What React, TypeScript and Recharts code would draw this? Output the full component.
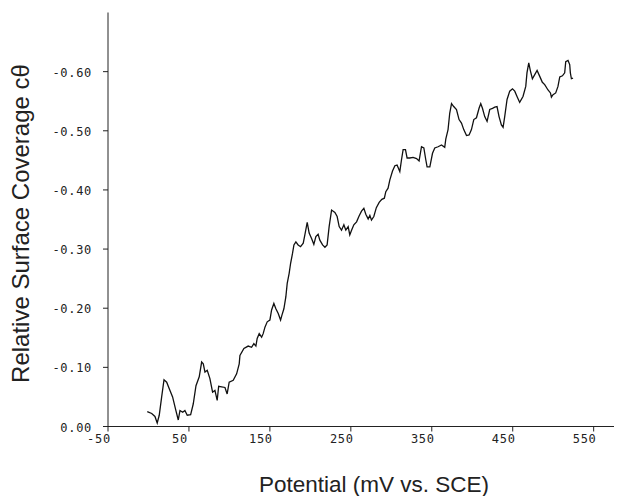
import React from "react";
import { LineChart, Line, XAxis, YAxis } from "recharts";

// Potential (mV vs. SCE)
const potentialMv = [
  -1.5, 4.0, 8.0, 10.8, 13.3, 16.3, 19.2, 22.5, 25.7, 29.8,
  33.9, 36.8, 38.9, 42.3, 45.0, 47.9, 52.1, 55.3, 58.7, 62.7,
  65.7, 67.7, 69.8, 72.6, 75.9, 79.2, 82.1, 84.9, 86.7, 90.4,
  94.5, 97.2, 99.7, 104.7, 108.9, 112.1, 113.0, 117.9, 123.2, 127.4,
  130.2, 132.7, 134.3, 136.8, 139.8, 141.7, 143.9, 146.7, 150.0, 152.1,
  154.9, 157.4, 160.3, 163.2, 164.8, 167.3, 169.7, 171.4, 173.8, 175.6,
  178.0, 179.7, 182.1, 184.9, 187.9, 191.2, 193.2, 196.1, 198.5, 201.5,
  204.3, 206.8, 209.6, 211.7, 215.1, 218.0, 220.7, 223.2, 226.2, 230.3,
  233.1, 235.6, 238.5, 241.4, 243.8, 246.7, 248.7, 250.9, 253.7, 257.1,
  260.2, 263.2, 266.1, 268.5, 271.4, 273.5, 275.5, 278.4, 281.5, 285.0,
  288.3, 291.4, 293.2, 296.0, 298.2, 301.5, 304.4, 307.1, 310.5, 312.6,
  314.6, 317.5, 319.5, 322.8, 326.9, 331.2, 334.3, 337.3, 340.2, 342.6,
  344.2, 347.6, 350.9, 353.7, 357.8, 362.0, 366.0, 367.3, 370.1, 372.2,
  374.4, 377.1, 380.5, 383.7, 386.7, 389.5, 392.9, 396.1, 399.0, 401.9,
  405.2, 408.4, 410.5, 412.6, 415.4, 418.3, 421.6, 425.0, 427.8, 430.6,
  433.1, 436.0, 438.1, 440.1, 443.0, 446.3, 449.7, 452.5, 455.3, 458.6,
  462.7, 466.1, 467.6, 469.8, 471.9, 474.3, 477.2, 480.1, 483.4, 486.6,
  489.5, 493.6, 496.6, 497.8, 499.8, 503.1, 505.9, 508.1, 511.4, 514.2,
  515.5, 518.3, 520.4, 521.2, 522.5, 524.5,
];

// Relative surface coverage c-theta
const coverage = [
  -0.025, -0.022, -0.017, -0.006, -0.019, -0.050, -0.079, -0.075, -0.064, -0.050,
  -0.027, -0.011, -0.027, -0.024, -0.027, -0.019, -0.020, -0.038, -0.069, -0.084,
  -0.109, -0.106, -0.092, -0.095, -0.081, -0.058, -0.061, -0.044, -0.068, -0.067,
  -0.066, -0.055, -0.075, -0.078, -0.089, -0.106, -0.120, -0.132, -0.136, -0.134,
  -0.140, -0.136, -0.149, -0.157, -0.151, -0.157, -0.168, -0.177, -0.180, -0.197,
  -0.208, -0.199, -0.191, -0.180, -0.188, -0.199, -0.219, -0.242, -0.259, -0.276,
  -0.293, -0.307, -0.312, -0.307, -0.304, -0.310, -0.324, -0.345, -0.327, -0.318,
  -0.308, -0.321, -0.325, -0.315, -0.307, -0.303, -0.307, -0.338, -0.366, -0.362,
  -0.355, -0.338, -0.332, -0.341, -0.332, -0.338, -0.324, -0.332, -0.341, -0.346,
  -0.356, -0.364, -0.369, -0.359, -0.351, -0.357, -0.349, -0.355, -0.370, -0.379,
  -0.384, -0.386, -0.397, -0.403, -0.417, -0.432, -0.441, -0.442, -0.431, -0.451,
  -0.468, -0.468, -0.454, -0.454, -0.455, -0.453, -0.449, -0.473, -0.471, -0.451,
  -0.439, -0.439, -0.462, -0.471, -0.473, -0.476, -0.472, -0.486, -0.502, -0.530,
  -0.546, -0.541, -0.536, -0.519, -0.513, -0.502, -0.492, -0.493, -0.502, -0.519,
  -0.522, -0.538, -0.546, -0.538, -0.524, -0.516, -0.536, -0.538, -0.540, -0.541,
  -0.524, -0.510, -0.506, -0.524, -0.553, -0.567, -0.571, -0.567, -0.558, -0.548,
  -0.558, -0.575, -0.598, -0.615, -0.601, -0.588, -0.595, -0.602, -0.592, -0.582,
  -0.578, -0.569, -0.564, -0.557, -0.561, -0.564, -0.575, -0.591, -0.593, -0.598,
  -0.617, -0.619, -0.612, -0.598, -0.588, -0.589,
];

const xTicks = [-50, 50, 150, 250, 350, 450, 550];
const yTicks = [0, -0.1, -0.2, -0.3, -0.4, -0.5, -0.6];

const xLabel = "Potential (mV vs. SCE)";
const yLabel = "Relative Surface Coverage  c\u03B8";

const data = potentialMv.map((p, i) => ({ p, c: coverage[i] }));

const tickFont = "'DejaVu Sans Mono', 'Liberation Mono', monospace";
const labelFont = "'Liberation Sans', Arial, sans-serif";

const XTick = (props: any) => {
  const { x, y, payload } = props;
  return (
    <text x={x - 9} y={y + 1} textAnchor="middle" dominantBaseline="hanging"
      fontFamily={tickFont} fontSize={12} fill="#222" letterSpacing={0.7}>
      {String(payload.value)}
    </text>
  );
};

const YTick = (props: any) => {
  const { x, y, payload } = props;
  const v = payload.value === 0 ? "0.00" : Number(payload.value).toFixed(2);
  return (
    <text x={x - 9} y={y + 1} textAnchor="end" dominantBaseline="central"
      fontFamily={tickFont} fontSize={12} fill="#222" letterSpacing={0.7}>
      {v}
    </text>
  );
};

const EmptyTick = () => <g />;

const XLabel = (props: any) => {
  const vb = props.viewBox || { x: 100, y: 418.5, width: 514, height: 69.5 };
  return (
    <text x={vb.x + 266} y={vb.y + 65} textAnchor="middle"
      fontFamily={labelFont} fontSize={22.5} fill="#222">
      {xLabel}
    </text>
  );
};

const YLabel = (props: any) => {
  const vb = props.viewBox || { x: 0, y: 4.5, width: 100, height: 414 };
  const cx = vb.x + 21;
  const cy = vb.y + 211;
  return (
    <text x={cx} y={cy} transform={`rotate(-90 ${cx} ${cy})`} textAnchor="middle"
      fontFamily={labelFont} fontSize={24} fill="#222">
      {yLabel}
    </text>
  );
};

export default function App() {
  return (
    <div style={{ width: 614, height: 488, background: "#fff" }}>
      <LineChart width={614} height={488} data={data}
        margin={{ top: 4.5, right: 0, bottom: 0, left: 0 }}>
        <XAxis xAxisId="b" dataKey="p" type="number" domain={[-50, 585]}
          allowDataOverflow ticks={xTicks} height={69.5} tickSize={5}
          stroke="#222" tick={XTick} label={{ content: XLabel }} />
        <XAxis xAxisId="t" orientation="top" type="number" domain={[-50, 585]}
          allowDataOverflow ticks={xTicks} height={0} tickSize={3}
          stroke="#222" tick={EmptyTick} />
        <YAxis type="number" domain={[-0.7, 0]} reversed allowDataOverflow
          ticks={yTicks} width={100} tickSize={5} stroke="#222"
          tick={YTick} label={{ content: YLabel }} />
        <Line xAxisId="b" dataKey="c" type="linear" stroke="#111"
          strokeWidth={1.3} dot={false} isAnimationActive={false} />
      </LineChart>
    </div>
  );
}
